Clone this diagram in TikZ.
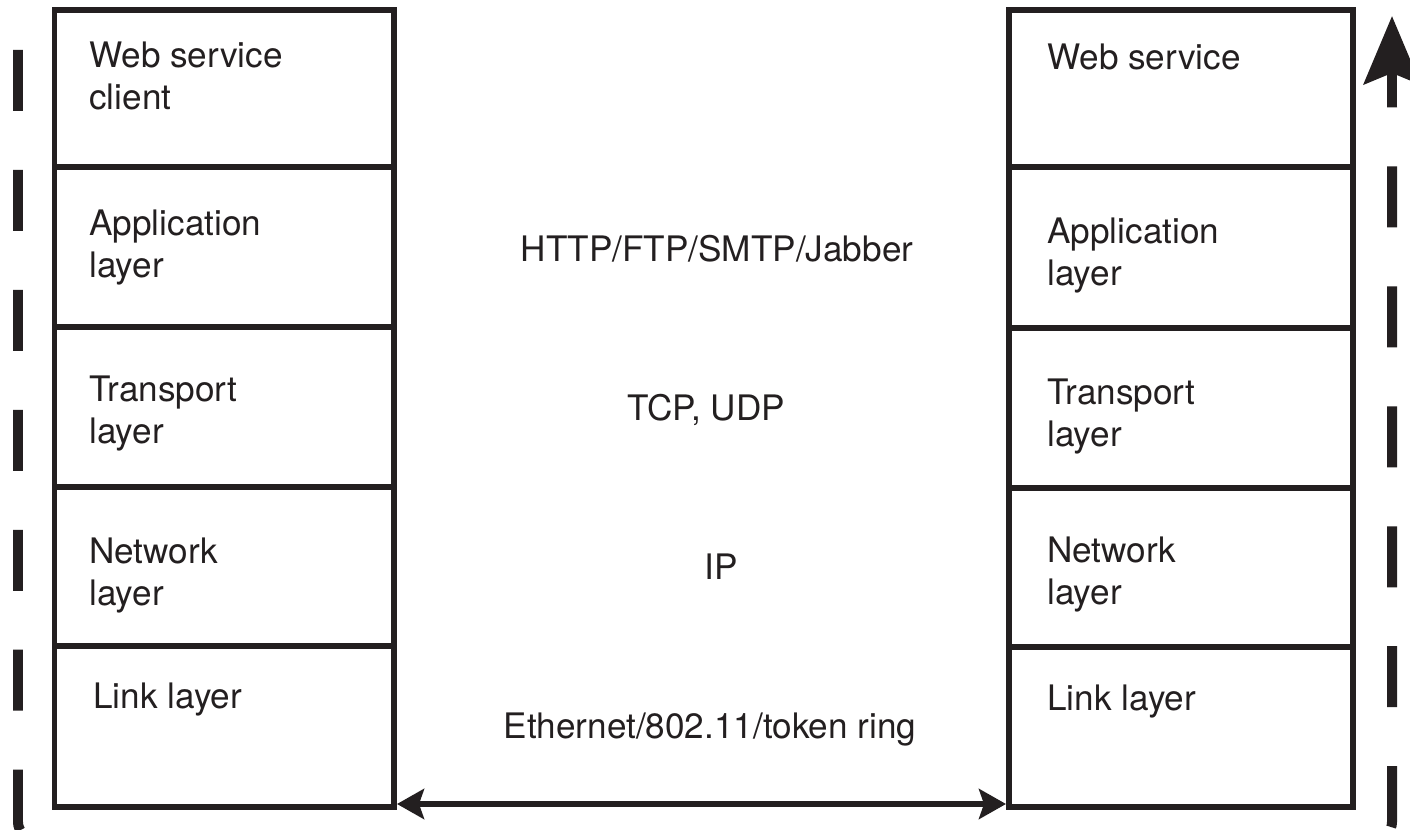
\documentclass[tikz,border=0pt]{standalone}
\usepackage{fontspec}
\setmainfont{TeX Gyre Heros}
\usetikzlibrary{arrows.meta}
\definecolor{ink}{HTML}{231F20}

\tikzset{
  layerbox/.style={draw=ink, line width=0.12cm},
  lbl/.style={anchor=base west, inner sep=0pt, align=left, text=ink, font=\fontsize{20}{24}\selectfont},
  proto/.style={anchor=base, inner sep=0pt, text=ink, font=\fontsize{20}{24}\selectfont},
  flow/.style={draw=ink, line width=0.2cm, rounded corners=0.32cm, dash pattern=on 1.22cm off 1.1794cm},
  wire/.style={draw=ink, line width=0.13cm, {Stealth[length=0.54cm,width=0.6cm,inset=0.1cm]}-{Stealth[length=0.54cm,width=0.6cm,inset=0.1cm]}}
}

\begin{document}
\begin{tikzpicture}[x=0.02cm, y=-0.02cm]
    \useasboundingbox (0,0) rectangle (1410,830);
    \clip (0,0) rectangle (1410,830);

    % Client stack - left
    \draw[layerbox] (54.5,10) rectangle (394,167);
    \draw[layerbox] (54.5,167) rectangle (394,327);
    \draw[layerbox] (54.5,327) rectangle (394,487);
    \draw[layerbox] (54.5,487) rectangle (394,646);
    \draw[layerbox] (54.5,646) rectangle (394,807);
    \node[lbl] (cliWeb) at (89,110) {Web service\\client};
    \node[lbl] (cliApp) at (89,278) {Application\\layer};
    \node[lbl] (cliTrans) at (89,444) {Transport\\layer};
    \node[lbl] (cliNet) at (89,606) {Network\\layer};
    \node[lbl] (cliLink) at (93,709) {Link layer};

    % Server stack - right
    \draw[layerbox] (1009,10) rectangle (1353,167);
    \draw[layerbox] (1009,167) rectangle (1353,328);
    \draw[layerbox] (1009,328) rectangle (1353,488);
    \draw[layerbox] (1009,488) rectangle (1353,647);
    \draw[layerbox] (1009,647) rectangle (1353,807);
    \node[lbl] (srvWeb) at (1047,70) {Web service};
    \node[lbl] (srvApp) at (1047,286) {Application\\layer};
    \node[lbl] (srvTrans) at (1047,447) {Transport\\layer};
    \node[lbl] (srvNet) at (1047,605) {Network\\layer};
    \node[lbl] (srvLink) at (1047,711) {Link layer};

    % Protocols in between
    \node[proto] (pApp) at (717,262) {HTTP/FTP/SMTP/Jabber};
    \node[proto] (pTrans) at (706,421) {TCP, UDP};
    \node[proto] (pNet) at (721,580) {IP};
    \node[proto] (pLink) at (710,739) {Ethernet/802.11/token ring};

    % Physical link
    \coordinate (cliBot) at (397,804);
    \coordinate (srvBot) at (1006,804);
    \draw[wire] (cliBot) -- (srvBot);

    % Data path down and up the stacks
    \coordinate (flowStart) at (18,50);
    \coordinate (flowTurn) at (1392,107);
    \coordinate (flowTip) at (1392,16);
    \draw[flow] (flowStart) -- (18,838) -- (1392,838) -- (flowTurn);
    \draw[draw=ink, line width=0.2cm, -{Stealth[length=1.36cm,width=1.12cm,inset=0.22cm]}] (flowTurn) -- (flowTip);
\end{tikzpicture}
\end{document}
